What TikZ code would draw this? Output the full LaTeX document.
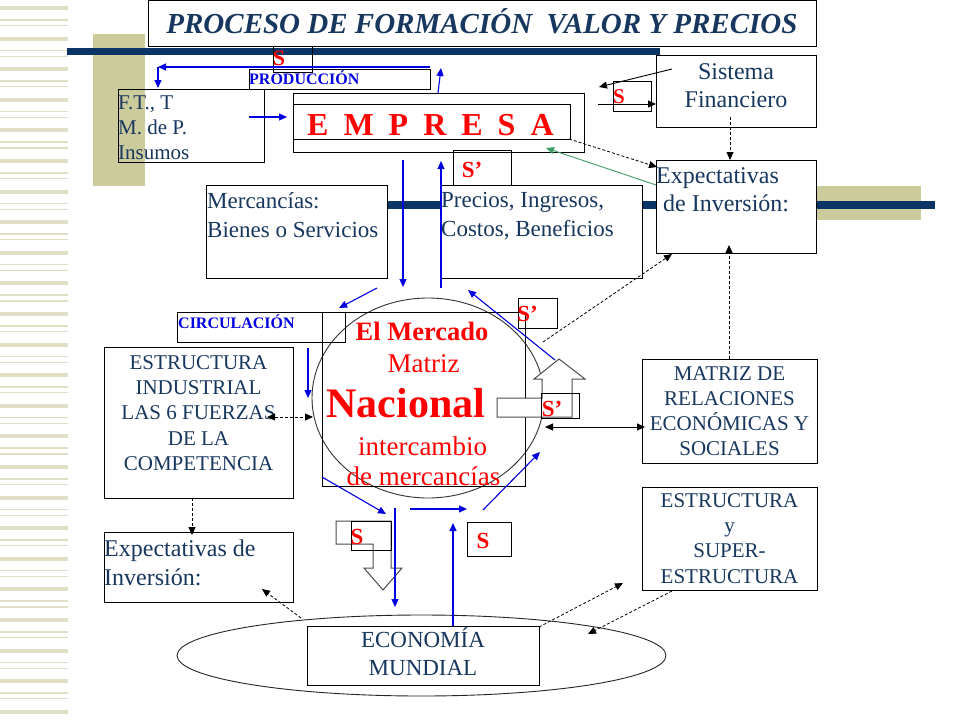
\documentclass[tikz,border=0pt]{standalone}
\usepackage{fontspec}
\setmainfont{Liberation Serif}
\usetikzlibrary{arrows.meta,shapes.geometric}
\definecolor{navy}{HTML}{17375E}
\definecolor{barblue}{HTML}{0A3566}
\definecolor{beige}{HTML}{CCCB9C}
\definecolor{stripe}{HTML}{E0DEC4}
\definecolor{myblue}{HTML}{0000E0}
\definecolor{myred}{HTML}{FF0000}
\definecolor{mygreen}{HTML}{3C9E64}
\begin{document}
\begin{tikzpicture}[x=1pt,y=-1pt,
  box/.style={draw=black, line width=0.9pt, inner sep=0pt, anchor=north west},
  wbox/.style={box, fill=white},
  lbl/.style={text=navy, inner sep=0pt},
  tip/.tip={Triangle[length=8pt,width=7pt]},
  blarr/.style={draw=myblue, line width=1.1pt, -tip},
  darr/.style={draw=black, line width=0.8pt, dash pattern=on 3pt off 2pt, -tip},
  ddarr/.style={draw=black, line width=0.8pt, dash pattern=on 3pt off 2pt, tip-tip},
  sarr/.style={draw=black, line width=0.9pt, -tip},
  sdarr/.style={draw=black, line width=0.9pt, tip-tip},
  garr/.style={draw=mygreen, line width=0.9pt, -tip},
  money/.style={text=myred, font=\fontsize{23}{23}\selectfont\bfseries, inner sep=0pt},
  redtxt/.style={text=myred, inner sep=0pt, anchor=base},
  hollow/.style={draw=black!70, line width=1pt, fill=white},
]
% canvas
\path[use as bounding box, fill=white] (0,0) rectangle (960,720);
% left stripes
\foreach \k in {0,...,23} {
  \fill[stripe] (0,{6+30.6*\k}) rectangle (68,{10+30.6*\k});
  \fill[stripe] (0,{19+30.6*\k}) rectangle (68,{20.5+30.6*\k});
  \fill[stripe] (0,{25+30.6*\k}) rectangle (68,{26.2+30.6*\k});
}
% decorative beige blocks and bars
\fill[beige] (93,34) rectangle (145,186);
\fill[beige] (817,186) rectangle (921,220);
\fill[barblue] (67,48) rectangle (660,55);
\fill[barblue] (388,201) rectangle (935,209);

% title
\node[box, minimum width=668pt, minimum height=46pt] (titlebox) at (148,0) {};
\node[text=navy, font=\fontsize{29}{29}\selectfont\bfseries\itshape, inner sep=0pt, anchor=base] (title) at (482,33) {PROCESO DE FORMACIÓN\ \ VALOR Y PRECIOS};

% produccion
\node[box, minimum width=181pt, minimum height=20pt] (prodbox) at (249,69) {};
\node[text=myblue, font=\fontsize{16}{16}\selectfont\bfseries, inner sep=0pt, anchor=base west] (prod) at (249,84) {PRODUCCIÓN};
\node[box, minimum width=39pt, minimum height=26pt] (sbox1) at (273,46) {};
\node[money, font=\fontsize{22}{22}\selectfont\bfseries] (s1) at (279,58.5) {S};

% F.T. box
\node[box, minimum width=146pt, minimum height=73pt] (ft) at (118,89) {};
\node[lbl, font=\fontsize{21}{25}\selectfont, align=left, anchor=north west] (ftt) at (118,96) {F.T., T\\M. de P.\\Insumos};

% Empresa
\node[box, minimum width=291pt, minimum height=59pt] (empout) at (293,93) {};
\node[box, minimum width=277pt, minimum height=35pt] (empin) at (293,104) {};
\node[text=myred, font=\fontsize{32}{32}\selectfont\bfseries, inner sep=0pt, anchor=base west] (emp) at (307,135)
  {E\hspace{15pt}M\hspace{15pt}P\hspace{15pt}R\hspace{15pt}E\hspace{15pt}S\hspace{15pt}A};
\node[box, minimum width=38pt, minimum height=30pt] (sbox2) at (613,81) {};
\node[money, font=\fontsize{21}{21}\selectfont\bfseries] (s2) at (619,96.5) {S};

% Sistema financiero
\node[wbox, minimum width=160pt, minimum height=72pt] (sis) at (656,55) {};
\node[lbl, font=\fontsize{24}{28}\selectfont, align=center, anchor=north] (sist) at (736,63) {Sistema\\Financiero};

% Expectativas right
\node[wbox, minimum width=160pt, minimum height=93pt] (expr) at (656,160) {};
\node[lbl, font=\fontsize{24}{28.5}\selectfont, align=left, anchor=north west] (exprt) at (656,167) {Expectativas\\\hspace*{7pt}de Inversión:};

% Mercancias / Precios
\node[wbox, minimum width=181pt, minimum height=93pt] (merc) at (206,185) {};
\node[lbl, font=\fontsize{23}{28.5}\selectfont, align=left, anchor=north west] (merct) at (207,192.5) {Mercancías:\\Bienes o Servicios};
\node[box, minimum width=58pt, minimum height=35pt] (sbox3) at (453,150) {};
\node[wbox, minimum width=202pt, minimum height=93pt] (prec) at (440,185) {};
\node[lbl, font=\fontsize{23}{28.5}\selectfont, align=left, anchor=north west] (prect) at (441,192.5) {Precios, Ingresos,\\Costos, Beneficios};
\node[money] (s3) at (472,170) {S’};

% Mercado
\node[draw=black!80, line width=0.9pt, ellipse, minimum width=232pt, minimum height=200pt, inner sep=0pt] (circ) at (428,398) {};
\node[box, minimum width=203pt, minimum height=174pt] (mrect) at (322,312) {};
\node[box, minimum width=168pt, minimum height=30pt] (circbox) at (177,312) {};
\node[text=myblue, font=\fontsize{16}{16}\selectfont\bfseries, inner sep=0pt, anchor=base west] (circt) at (178,328) {CIRCULACIÓN};
\node[box, minimum width=39pt, minimum height=30pt] (sbox4) at (518,298) {};
\node[money] (s4) at (527.5,313.5) {S’};
\node[redtxt, font=\fontsize{26.5}{26.5}\selectfont\bfseries] (m1) at (422,340) {El Mercado};
\node[redtxt, font=\fontsize{27}{27}\selectfont] (m2) at (423.5,372) {Matriz};
\node[redtxt, font=\fontsize{42}{42}\selectfont\bfseries] (m3) at (406,417) {Nacional};
\node[redtxt, font=\fontsize{27}{27}\selectfont] (m4) at (422.5,455) {intercambio};
\node[redtxt, font=\fontsize{27}{27}\selectfont] (m5) at (423.5,485) {de mercancías};

% bent up arrow with S'
\draw[hollow] (497,398) -- (542,398) -- (542,379) -- (534,379) -- (559,359) -- (585,379) -- (572,379) -- (572,417) -- (497,417) -- cycle;
\node[box, minimum width=38pt, minimum height=25pt] (sbox5) at (541,393) {};
\node[money] (s5) at (552,409) {S’};

% Estructura industrial
\node[wbox, minimum width=189pt, minimum height=151pt] (ind) at (104,347) {};
\node[lbl, font=\fontsize{21}{25.3}\selectfont, align=center, anchor=north] (indt) at (198.5,355) {ESTRUCTURA\\INDUSTRIAL\\LAS 6 FUERZAS\\DE LA\\COMPETENCIA};

% Expectativas left
\node[wbox, minimum width=189pt, minimum height=70pt] (expl) at (104,532) {};
\node[lbl, font=\fontsize{24}{29}\selectfont, align=left, anchor=north west] (explt) at (104,540) {Expectativas de\\Inversión:};

% Matriz de relaciones
\node[wbox, minimum width=175pt, minimum height=104pt] (mat) at (642,359) {};
\node[lbl, font=\fontsize{21}{25.3}\selectfont, align=center, anchor=north] (matt) at (729.5,366) {MATRIZ DE\\RELACIONES\\ECONÓMICAS Y\\SOCIALES};

% Estructura y super
\node[wbox, minimum width=175pt, minimum height=103pt] (sup) at (642,487) {};
\node[lbl, font=\fontsize{21}{25.3}\selectfont, align=center, anchor=north] (supt) at (729.5,493) {ESTRUCTURA\\y\\SUPER-\\ESTRUCTURA};

% bottom money boxes and bent down arrow
\draw[hollow] (336,521) -- (391,521) -- (391,568) -- (402,568) -- (383,590) -- (364,568) -- (373,568) -- (373,544) -- (336,544) -- cycle;
\node[box, minimum width=40pt, minimum height=29pt] (sbox6) at (351,521) {};
\node[money] (s6) at (357,537) {S};
\node[box, minimum width=44pt, minimum height=34pt] (sbox7) at (467,522) {};
\node[money] (s7) at (483,541) {S};

% Economia mundial
\node[draw=black!85, line width=0.9pt, ellipse, minimum width=489pt, minimum height=81pt, inner sep=0pt] (world) at (421.5,655.5) {};
\node[wbox, minimum width=232pt, minimum height=59pt] (eco) at (307,626) {};
\node[lbl, font=\fontsize{23}{28}\selectfont, align=center, anchor=north] (ecot) at (423,628) {ECONOMÍA\\MUNDIAL};

% ---------- connector end points ----------
\coordinate (ftout) at (249,117);  \coordinate (empin1) at (287,117);
\coordinate (eup1) at (438,93);    \coordinate (eup2) at (441,68);
\coordinate (pl1) at (430,67);     \coordinate (pl2) at (158,67);
\coordinate (ftin) at (158,88);
\coordinate (sisA) at (672,69);    \coordinate (sisB) at (599,87);
\coordinate (sisC) at (598,104);   \coordinate (sisD) at (656,104);
\coordinate (sisE) at (730,117);   \coordinate (exA) at (730,160);
\coordinate (empC) at (569,139);   \coordinate (exB) at (657,167);
\coordinate (exC) at (656,185);    \coordinate (empD) at (546,148);
\coordinate (matN) at (729,359);   \coordinate (exD) at (729,245);
\coordinate (cirA) at (543,342);   \coordinate (exE) at (672,254);
\coordinate (dnA) at (403,160);    \coordinate (dnB) at (403,287);
\coordinate (upA) at (441,288);    \coordinate (upB) at (441,161);
\coordinate (ciA) at (377,288);    \coordinate (ciB) at (339,308);
\coordinate (ciC) at (555,360);    \coordinate (ciD) at (468,290);
\coordinate (ciE) at (308,348);    \coordinate (ciF) at (308,398);
\coordinate (indE) at (267,417);   \coordinate (cirW) at (313,417);
\coordinate (indS) at (192,498);   \coordinate (explN) at (192,535);
\coordinate (cirE) at (545,427);   \coordinate (matW) at (645,427);
\coordinate (boA) at (322,477);    \coordinate (boB) at (386,514);
\coordinate (boC) at (395,508);    \coordinate (boD) at (395,607);
\coordinate (boE) at (410,509);    \coordinate (boF) at (467,509);
\coordinate (boG) at (483,510);    \coordinate (boH) at (540,452);
\coordinate (ecoN) at (453,626);   \coordinate (boI) at (453,523);
\coordinate (wA) at (301,618);     \coordinate (explB) at (262,589);
\coordinate (ecoNE) at (539,627);  \coordinate (supA) at (623,583);
\coordinate (supB) at (672,591);   \coordinate (wB) at (588,634);

% ---------- connectors ----------
\draw[blarr] (ftout) -- (empin1);
\draw[blarr] (eup1) -- (eup2);
\draw[blarr] (pl1) -- (pl2);
\draw[blarr] (pl2) -- (ftin);
\draw[sarr] (sisA) -- (sisB);
\draw[sarr] (sisC) -- (sisD);
\draw[darr] (sisE) -- (exA);
\draw[darr] (empC) -- (exB);
\draw[garr] (exC) -- (empD);
\draw[darr] (matN) -- (exD);
\draw[darr] (cirA) -- (exE);
\draw[blarr] (dnA) -- (dnB);
\draw[blarr] (upA) -- (upB);
\draw[blarr] (ciA) -- (ciB);
\draw[blarr] (ciC) -- (ciD);
\draw[blarr] (ciE) -- (ciF);
\draw[ddarr] (indE) -- (cirW);
\draw[darr] (indS) -- (explN);
\draw[sdarr] (cirE) -- (matW);
\draw[blarr] (boA) -- (boB);
\draw[blarr] (boC) -- (boD);
\draw[blarr] (boE) -- (boF);
\draw[blarr] (boG) -- (boH);
\draw[blarr] (ecoN) -- (boI);
\draw[darr] (wA) -- (explB);
\draw[darr] (ecoNE) -- (supA);
\draw[darr] (supB) -- (wB);
\end{tikzpicture}
\end{document}
